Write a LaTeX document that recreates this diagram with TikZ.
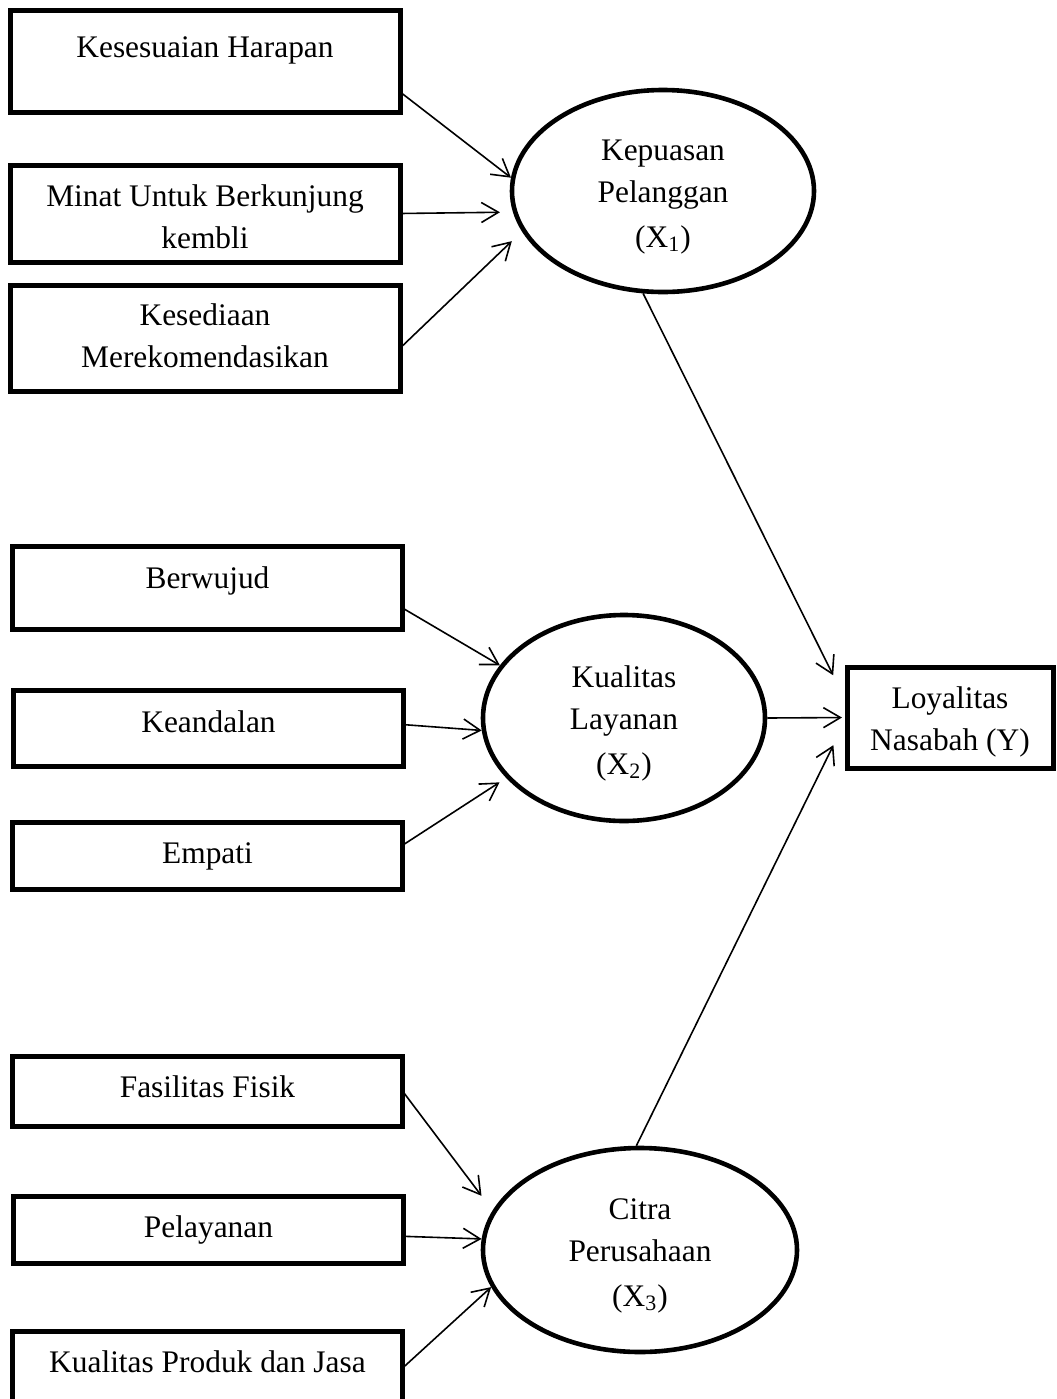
\documentclass[tikz,border=0pt]{standalone}
\usepackage{fontspec}
\setmainfont{Liberation Serif}
\usepackage{tikz}
\usetikzlibrary{arrows.meta,shapes.geometric}
\tikzset{
  ind/.style={
    rectangle, draw, line width=2.5pt,
    minimum width=195pt, minimum height=0pt,
    inner sep=0pt, outer sep=0pt,
    align=center, anchor=north,
  },
  latent/.style={
    ellipse, draw, line width=2.3pt,
    inner sep=0pt, align=center,
    text height=62pt, text depth=6pt,
  },
  arr/.style={-{Straight Barb[length=8.5pt,width=10pt]}, line width=0.8pt},
}

\begin{document}
\begin{tikzpicture}[x=0.5pt, y=-0.5pt, font=\fontsize{15.7}{21}\selectfont]
\useasboundingbox (0,0) rectangle (1056,1399);

% ===== Kepuasan Pelanggan =====
\node[ind, text height=23.5pt, text depth=27.5pt] (harapan) at (205,10) {Kesesuaian Harapan};
\node[ind, text height=41.5pt, text depth=7pt] (minat) at (205,165) {Minat Untuk Berkunjung\\kembli};
\node[ind, text height=41pt, text depth=12pt] (rekom) at (205,285) {Kesediaan\\Merekomendasikan};
\node[latent, minimum width=151pt, minimum height=101pt] (kepuasan) at (663,191)
  {Kepuasan\\Pelanggan\\[1.5pt](X\textsubscript{1})};

\draw[arr] (harapan.-9.4) -- (kepuasan.175.4);
\draw[arr, shorten >=6.5pt] (minat.east) -- (kepuasan.188.5);
\draw[arr, shorten >=7pt] (rekom.-3.6) -- (kepuasan.196.4);

% ===== Kualitas Layanan =====
\node[ind, text height=21pt, text depth=20.5pt] (wujud) at (207.5,546) {Berwujud};
\node[ind, text height=21pt, text depth=17pt] (andal) at (208.5,690) {Keandalan};
\node[ind, text height=20.5pt, text depth=13pt] (empati) at (207.5,822) {Empati};
\node[latent, minimum width=141pt, minimum height=103pt] (kualitas) at (624,718)
  {Kualitas\\Layanan\\[1.5pt](X\textsubscript{2})};

\draw[arr] (wujud.-6.3) -- (kualitas.157);
\draw[arr] (andal.1.8) -- (kualitas.185.6);
\draw[arr, shorten >=4pt] (empati.3.95) -- (kualitas.207.3);

% ===== Citra Perusahaan =====
\node[ind, text height=20.5pt, text depth=14.5pt] (fisik) at (207.5,1056) {Fasilitas Fisik};
\node[ind, text height=20.5pt, text depth=13pt] (layan) at (208.5,1196) {Pelayanan};
\node[ind, text height=20.5pt, text depth=20pt] (produk) at (207.5,1331) {Kualitas Produk dan Jasa};
\node[latent, minimum width=157pt, minimum height=102pt] (citra) at (640,1250)
  {Citra\\Perusahaan\\[1.5pt](X\textsubscript{3})};

\draw[arr, shorten >=9.2pt] (fisik.east) -- (citra.165.2);
\draw[arr] (layan.-2.8) -- (citra.176);
\draw[arr] (produk.1) -- (citra.194);

% ===== Loyalitas =====
\node[ind, minimum width=103pt, text height=41.5pt, text depth=9pt] (loyal) at (950,667) {Loyalitas\\Nasabah (Y)};

\draw[arr, shorten >=15.5pt] (kepuasan.259.1) -- (loyal.172);
\draw[arr, shorten >=2.5pt] (kualitas.east) -- (loyal.west);
\draw[arr, shorten >=15.4pt] (citra.92.8) -- (loyal.west);

\end{tikzpicture}
\end{document}
